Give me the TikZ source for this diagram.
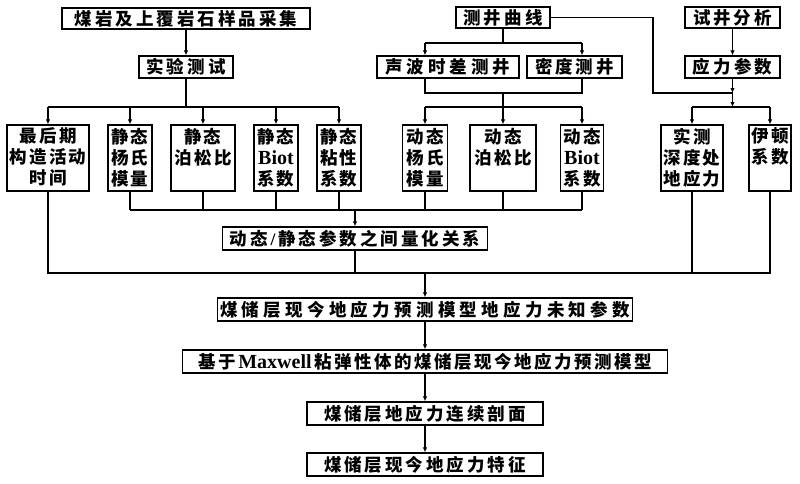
\documentclass[tikz,border=0pt]{standalone}
\usepackage{fontspec}
\usetikzlibrary{arrows.meta}
\setmainfont{Liberation Serif}
\newfontfamily\cjk{Noto Sans CJK SC}
\newfontfamily\latf{Liberation Serif}
\newcommand\la[1]{{\latf\bfseries\fontsize{20}{21}\selectfont #1}}
\newcommand\slsh{{\latf\bfseries\fontsize{17.5}{21}\selectfont /}}
\ExplSyntaxOn
\NewDocumentCommand\sx{O{2pt}m}{
  \bool_set_true:N \l_tmpa_bool
  \tl_map_inline:nn {#2}{
    \bool_if:NF \l_tmpa_bool {\hspace{#1}}
    \bool_set_false:N \l_tmpa_bool
    ##1
  }
}
\ExplSyntaxOff
\newcommand\vbx[3]{\parbox[c][#1][t]{#2}{\vspace*{3pt}\centering #3\par}}
\tikzset{
  box/.style={draw, line width=1.3pt, inner sep=0pt, anchor=center,
    font=\cjk\bfseries\fontsize{17.5}{21}\selectfont},
  ln/.style={line width=1.1pt},
  arr/.style={ln, -{Latex[length=5pt,width=4.5pt]}},
}
\begin{document}
\begin{tikzpicture}[x=1pt,y=-1pt]
\useasboundingbox[fill=white] (0,0) rectangle (800,483);
% top row
\node[box, minimum width=248pt, minimum height=21pt] (n1) at (186,18.5) {\sx[3pt]{煤岩及上覆岩石样品采集}};
\node[box, minimum width=94pt, minimum height=22pt] (n2) at (186,67) {\sx[3.3pt]{实验测试}};
\node[box, minimum width=94pt, minimum height=21pt] (m1) at (503,17.5) {\sx[3pt]{测井曲线}};
\node[box, minimum width=142pt, minimum height=22pt] (m2) at (448,67) {\sx[4pt]{声波时差测井}};
\node[box, minimum width=95pt, minimum height=22pt] (m3) at (574.5,67) {\sx[2.7pt]{密度测井}};
\node[box, minimum width=95pt, minimum height=21pt] (t1) at (732.5,17.5) {\sx[3pt]{试井分析}};
\node[box, minimum width=95pt, minimum height=22pt] (t2) at (732.5,67) {\sx[3.3pt]{应力参数}};
% second row
\node[box] (a1) at (48,158) {\vbx{66pt}{82pt}{\sx[2.3pt]{最后期}\\\sx[2.3pt]{构造活动}\\\sx[2.3pt]{时间}}};
\node[box] (a2) at (130,158) {\vbx{66pt}{44pt}{\sx{静态}\\\sx{杨氏}\\\sx{模量}}};
\node[box] (a3) at (203,158) {\vbx{66pt}{64pt}{\sx{静态}\\\sx[2.7pt]{泊松比}}};
\node[box] (a4) at (276,158) {\vbx{66pt}{44pt}{\sx{静态}\\\la{Biot}\\\sx{系数}}};
\node[box] (a5) at (339,158) {\vbx{66pt}{44pt}{\sx{静态}\\\sx{粘性}\\\sx{系数}}};
\node[box] (b1) at (425,158) {\vbx{66pt}{45pt}{\sx{动态}\\\sx{杨氏}\\\sx{模量}}};
\node[box] (b2) at (503,158) {\vbx{66pt}{66pt}{\sx{动态}\\\sx[2.7pt]{泊松比}}};
\node[box] (b3) at (582,158) {\vbx{66pt}{43pt}{\sx{动态}\\\la{Biot}\\\sx{系数}}};
\node[box] (c1) at (692,158) {\vbx{66pt}{62pt}{\sx{实测}\\\sx[2.2pt]{深度处}\\\sx[2.2pt]{地应力}}};
\node[box] (c2) at (770,158) {\vbx{66pt}{42pt}{\sx{伊顿}\\\sx{系数}}};
% lower chain
\node[box, minimum width=265pt, minimum height=23pt] (q) at (355,238.5) {\sx[3pt]{动态\slsh 静态参数之间量化关系}};
\node[box, minimum width=415pt, minimum height=23pt] (p1) at (425,309.5) {\sx[4.3pt]{煤储层现今地应力预测模型地应力未知参数}};
\node[box, minimum width=485pt, minimum height=23pt] (p2) at (425,361.5) {\sx[2.5pt]{基于{\la{Maxwell}}粘弹性体的煤储层现今地应力预测模型}};
\node[box, minimum width=236pt, minimum height=23pt] (p3) at (425,413.5) {\sx[3pt]{煤储层地应力连续剖面}};
\node[box, minimum width=236pt, minimum height=23pt] (p4) at (425,464.5) {\sx[3pt]{煤储层现今地应力特征}};
% coordinates
\coordinate (s1) at (186,107);
\coordinate (s2) at (503,43);
\coordinate (L) at (425,0);
\coordinate (R) at (582,0);
\coordinate (s3) at (503,93);
\coordinate (s4) at (503,107);
\coordinate (s5) at (355,210);
\coordinate (s6) at (425,273);
\coordinate (s8) at (653,93);
\coordinate (s9) at (732.5,93);
\coordinate (s10) at (732.5,107);
% left branch
\draw[arr] (n1) -- (n2);
\draw[ln] (n2.south) -- (s1);
\draw[ln] (a1.north |- s1) -- (a5.north |- s1);
\foreach \t in {a1,a2,a3,a4,a5} \draw[arr] (\t.north |- s1) -- (\t.north);
% logging branch
\draw[ln] (m1.south) -- (s2);
\draw[ln] (L |- s2) -- (R |- s2);
\draw[arr] (L |- s2) -- (L |- m2.north);
\draw[arr] (R |- s2) -- (R |- m3.north);
\draw[ln] (L |- m2.south) -- (L |- s3) -- (R |- s3) -- (R |- m3.south);
\draw[ln] (s3) -- (s4);
\draw[ln] (b1.north |- s4) -- (b3.north |- s4);
\foreach \t in {b1,b2,b3} \draw[arr] (\t.north |- s4) -- (\t.north);
% join to quantitative relation
\foreach \t in {a2,a3,a4,a5,b1,b2,b3} \draw[ln] (\t.south) -- (\t.south |- s5);
\draw[ln] (a2.south |- s5) -- (b3.south |- s5);
\draw[arr] (s5) -- (q.north);
% join to unknown parameters
\draw[ln] (a1.south) -- (a1.south |- s6) -- (c2.south |- s6) -- (c2.south);
\draw[ln] (q.south) -- (q.south |- s6);
\draw[ln] (c1.south) -- (c1.south |- s6);
\draw[arr] (s6) -- (p1.north);
\draw[arr] (p1) -- (p2);
\draw[arr] (p2) -- (p3);
\draw[arr] (p3) -- (p4);
% right branch
\draw[arr] (t1) -- (t2);
\draw[arr] (t2.south) -- (s9);
\draw[ln] (m1.east) -| (s8) -- (s9);
\draw[arr] (s9) -- (s10);
\draw[ln] (c1.north |- s10) -- (c2.north |- s10);
\foreach \t in {c1,c2} \draw[arr] (\t.north |- s10) -- (\t.north);
\end{tikzpicture}
\end{document}
